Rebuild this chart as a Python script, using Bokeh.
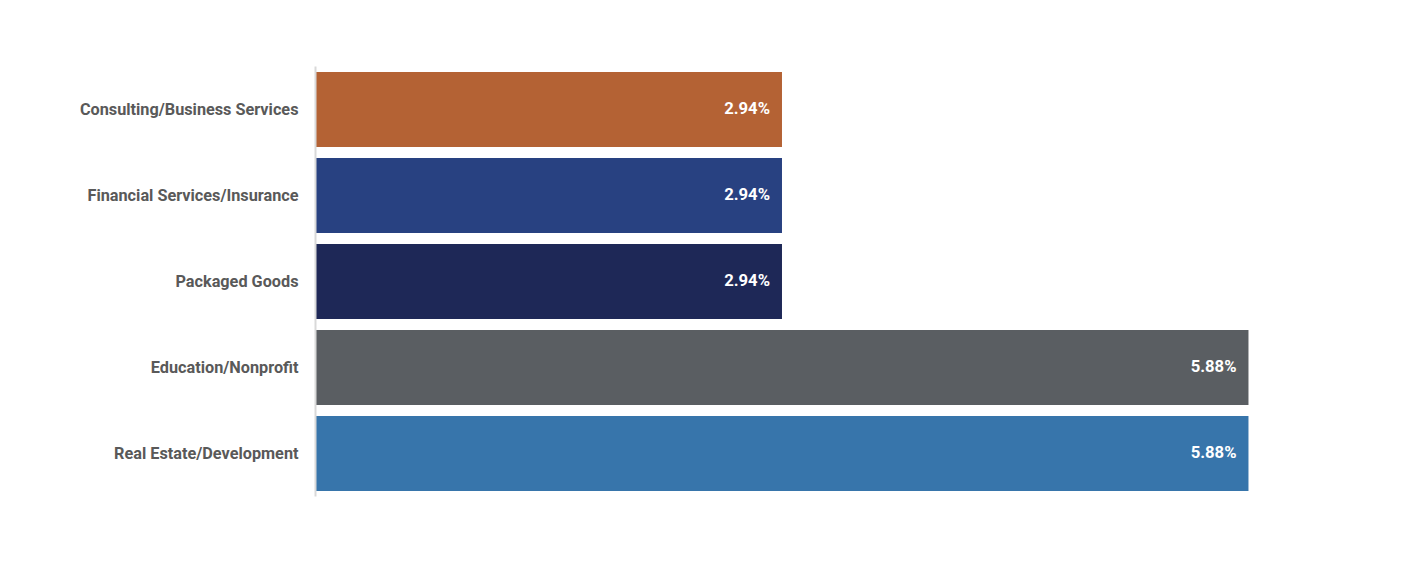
from bokeh.plotting import figure
from bokeh.models import ColumnDataSource, FactorRange, Range1d, LabelSet
from bokeh.core.properties import value
from bokeh.embed import file_html
from bokeh.resources import INLINE

categories = ["Consulting/Business Services", "Financial Services/Insurance",
              "Packaged Goods", "Education/Nonprofit", "Real Estate/Development"]
values = [2.94, 2.94, 2.94, 5.88, 5.88]
colors = ["#B46234", "#284181", "#1E2857", "#5A5E62", "#3775AB"]
labels = [f"{v:.2f}%" for v in values]

src = ColumnDataSource(dict(cat=categories, val=values, color=colors, label=labels))

p = figure(width=1418, height=582, output_backend="svg", toolbar_location=None,
           y_range=FactorRange(factors=list(reversed(categories))),
           x_range=Range1d(0, 6.523),
           min_border_left=315, min_border_right=68, min_border_top=66, min_border_bottom=86)
p.y_range.range_padding = 0
p.hbar(y="cat", right="val", left=0, height=0.87, color="color", source=src, line_color=None)

lbl = LabelSet(x="val", y="cat", text="label", source=src, x_offset=-12, y_offset=1,
               text_align="right", text_baseline="middle", text_color="white",
               text_font=value("Roboto"), text_font_style="bold", text_font_size="12.5pt")
p.add_layout(lbl)

p.xaxis.visible = False
p.xgrid.visible = False
p.ygrid.visible = False
p.outline_line_color = None
p.yaxis.axis_line_color = "#D9D9D9"
p.yaxis.axis_line_width = 2
p.yaxis.major_tick_line_color = None
p.yaxis.minor_tick_line_color = None
p.yaxis.major_label_standoff = 11
p.yaxis.major_label_text_font = "Roboto"
p.yaxis.major_label_text_font_style = "bold"
p.yaxis.major_label_text_font_size = "12.2pt"
p.yaxis.major_label_text_color = "#595959"

open("out.html", "w").write(file_html(p, INLINE))
